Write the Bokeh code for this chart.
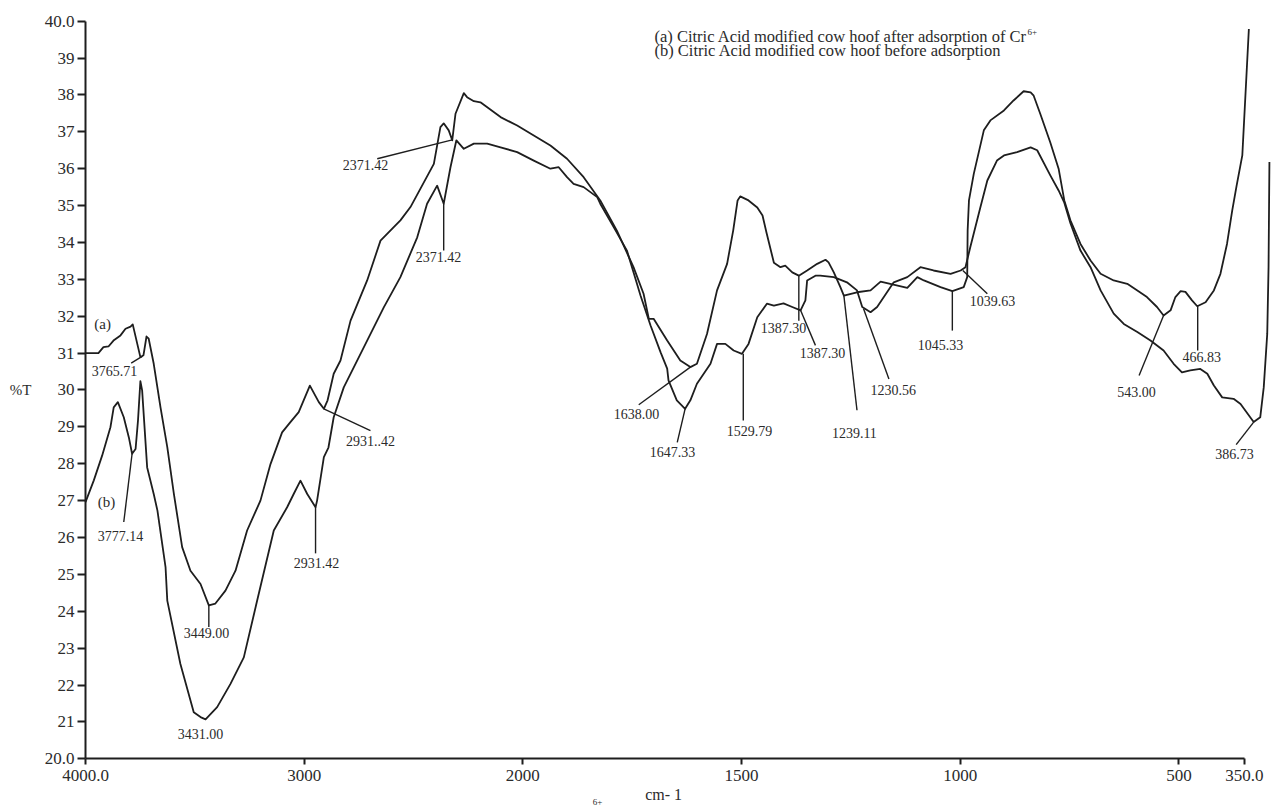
import numpy as np
from bokeh.plotting import figure
from bokeh.models import Range1d, FixedTicker, LinearAxis
from bokeh.core.properties import value
from bokeh.embed import file_html
from bokeh.resources import INLINE

# ---------------- data (wavenumber cm-1, %T) ----------------
# (a) Citric Acid modified cow hoof after adsorption of Cr6+
a_wn = [4000, 3941, 3918, 3895, 3872, 3840, 3817, 3794, 3784, 3749,
        3735, 3721, 3711, 3688, 3657, 3626, 3596, 3558, 3520, 3474,
        3436, 3406, 3360, 3314, 3261, 3200, 3154, 3101, 3063, 3025,
        2974, 2933, 2910, 2893, 2865, 2834, 2788, 2712, 2651, 2560,
        2514, 2407, 2377, 2362, 2339, 2323, 2308, 2270, 2255, 2224,
        2194, 2102, 2026, 1975, 1937, 1899, 1861, 1823, 1785, 1747,
        1724, 1712, 1701, 1670, 1640, 1617, 1602, 1579, 1556, 1533,
        1519, 1509, 1503, 1484, 1464, 1452, 1443, 1426, 1411, 1400,
        1384, 1369, 1350, 1327, 1308, 1301, 1289, 1274, 1266, 1236,
        1205, 1182, 1160, 1121, 1098, 1083, 1045, 1018, 992, 984,
        983, 980, 969, 946, 931, 900, 878, 855, 839, 832,
        817, 794, 775, 762, 748, 725, 702, 679, 649, 618,
        595, 573, 550, 535, 519, 508, 496, 485, 470, 458,
        439, 420, 405, 390, 378, 368, 355, 340]
a_T = [31.00, 31.00, 31.16, 31.18, 31.34, 31.48, 31.66, 31.72, 31.78, 30.89,
       30.94, 31.45, 31.39, 30.71, 29.53, 28.45, 27.19, 25.74, 25.10, 24.74,
       24.16, 24.21, 24.56, 25.10, 26.19, 27.00, 27.99, 28.85, 29.13, 29.40,
       30.12, 29.67, 29.49, 29.72, 30.44, 30.80, 31.88, 32.97, 34.05, 34.60,
       34.96, 36.13, 37.13, 37.23, 37.04, 36.77, 37.49, 38.05, 37.94, 37.83,
       37.80, 37.40, 37.17, 36.90, 36.63, 36.27, 35.77, 35.14, 34.32, 33.33,
       32.61, 31.93, 31.93, 31.34, 30.80, 30.62, 30.71, 31.52, 32.70, 33.42,
       34.33, 35.14, 35.25, 35.14, 34.95, 34.73, 34.27, 33.45, 33.33, 33.37,
       33.19, 33.10, 33.24, 33.42, 33.53, 33.46, 33.19, 32.79, 32.56, 32.65,
       32.70, 32.94, 32.88, 32.77, 33.06, 32.97, 32.79, 32.68, 32.79, 33.06,
       34.33, 35.14, 35.86, 37.04, 37.31, 37.58, 37.85, 38.10, 38.07, 37.98,
       37.49, 36.71, 36.00, 35.14, 34.60, 33.96, 33.51, 33.15, 32.97, 32.88,
       32.70, 32.52, 32.25, 32.02, 32.16, 32.52, 32.68, 32.66, 32.43, 32.27,
       32.38, 32.70, 33.15, 33.96, 34.87, 35.54, 36.36, 39.79]

# (b) Citric Acid modified cow hoof before adsorption
b_wn = [4000, 3962, 3924, 3886, 3871, 3852, 3825, 3802, 3787, 3771,
        3760, 3749, 3741, 3718, 3688, 3671, 3634, 3626, 3566, 3505,
        3474, 3451, 3398, 3337, 3276, 3215, 3177, 3139, 3078, 3048,
        3017, 2986, 2948, 2941, 2910, 2889, 2865, 2819, 2712, 2636,
        2560, 2483, 2438, 2392, 2362, 2331, 2304, 2270, 2224, 2163,
        2102, 2026, 1975, 1937, 1918, 1899, 1884, 1861, 1830, 1823,
        1792, 1762, 1747, 1731, 1708, 1685, 1670, 1667, 1648, 1629,
        1617, 1602, 1571, 1556, 1537, 1518, 1499, 1484, 1464, 1442,
        1426, 1404, 1384, 1365, 1354, 1350, 1331, 1320, 1289, 1259,
        1236, 1224, 1205, 1190, 1152, 1121, 1091, 1061, 1022, 999,
        988, 977, 954, 938, 916, 900, 870, 839, 824, 794,
        775, 762, 748, 725, 702, 679, 649, 626, 595, 565,
        535, 512, 493, 474, 451, 435, 420, 401, 375, 359,
        329, 314, 306, 298, 295, 293]
b_T = [26.96, 27.55, 28.22, 28.99, 29.53, 29.67, 29.26, 28.72, 28.27, 28.40,
       29.17, 30.24, 29.99, 27.90, 27.18, 26.73, 25.20, 24.29, 22.57, 21.26,
       21.13, 21.07, 21.40, 22.03, 22.75, 24.29, 25.24, 26.19, 26.82, 27.18,
       27.54, 27.18, 26.82, 27.00, 28.18, 28.44, 29.26, 30.07, 31.34, 32.24,
       33.06, 34.14, 35.05, 35.54, 35.05, 36.04, 36.77, 36.54, 36.68, 36.68,
       36.58, 36.45, 36.22, 36.00, 36.04, 35.77, 35.59, 35.50, 35.23, 35.05,
       34.41, 33.78, 33.19, 32.56, 31.75, 31.02, 30.58, 30.26, 29.72, 29.49,
       29.72, 30.17, 30.71, 31.25, 31.25, 31.07, 30.98, 31.25, 31.97, 32.34,
       32.29, 32.35, 32.25, 32.16, 32.43, 32.97, 33.10, 33.10, 33.06, 32.92,
       32.70, 32.25, 32.11, 32.25, 32.92, 33.06, 33.33, 33.24, 33.15, 33.24,
       33.33, 33.87, 34.95, 35.68, 36.22, 36.36, 36.45, 36.58, 36.50, 35.82,
       35.41, 35.08, 34.52, 33.78, 33.33, 32.70, 32.07, 31.79, 31.57, 31.34,
       31.07, 30.71, 30.48, 30.53, 30.57, 30.44, 30.12, 29.80, 29.76, 29.62,
       29.13, 29.26, 30.07, 31.52, 33.33, 36.18]

# axis ticks
x_tick_wn = [4000, 3000, 2000, 1500, 1000, 500, 350]
x_tick_text = ["4000.0", "3000", "2000", "1500", "1000", "500", "350.0"]
y_tick_val = list(range(20, 41))
y_tick_text = ["20.0"] + [str(v) for v in range(21, 40)] + ["40.0"]

# peak annotations (label centre)
peak_text = ["3765.71", "3777.14", "3449.00", "3431.00", "2931..42", "2931.42",
             "2371.42", "2371.42", "1638.00", "1647.33", "1529.79", "1387.30",
             "1387.30", "1239.11", "1230.56", "1045.33", "1039.63", "543.00",
             "466.83", "386.73"]
peak_wn = [3867, 3840, 3447, 3474, 2697, 2944, 2720, 2386, 1740, 1658,
           1482, 1404, 1315, 1242, 1153, 1045, 926, 597, 448, 373]
peak_T = [30.51, 26.05, 23.40, 20.66, 28.63, 25.32, 36.09, 33.60, 29.35, 28.33,
          28.90, 31.67, 30.99, 28.83, 30.01, 31.23, 32.41, 29.94, 30.89, 28.27]

# leader lines (from band on the curve to its label)
lead_wn0 = [3741, 3787, 3436, 2910, 2948, 2323, 2362, 1617, 1629, 1496,
            1369, 1365, 1266, 1221, 1018, 994, 535, 457, 329]
lead_T0 = [30.91, 28.27, 24.16, 29.49, 26.82, 36.78, 35.05, 30.62, 29.49, 30.98,
           33.10, 32.16, 32.56, 32.20, 32.68, 33.24, 32.02, 32.27, 29.13]
lead_wn1 = [3791, 3825, 3436, 2697, 2948, 2666, 2362, 1735, 1647, 1496,
            1369, 1331, 1236, 1163, 1018, 938, 591, 457, 369]
lead_T1 = [30.73, 26.42, 23.57, 28.90, 25.57, 36.27, 33.78, 29.60, 28.58, 29.17,
           31.88, 31.21, 29.45, 30.30, 31.61, 32.61, 30.39, 31.07, 28.52]

series_tag = ["(a)", "(b)"]
series_tag_wn = [3922, 3904]
series_tag_T = [31.80, 26.95]

legend_text = ["(a) Citric Acid modified cow hoof after adsorption of Cr",
               "(b) Citric Acid modified cow hoof before adsorption"]
legend_wn = [1699, 1699]
legend_T = [39.585, 39.205]


def fold(wn):
    """Spectrometer abscissa: scale expanded x2 below 2000 cm-1."""
    wn = np.asarray(wn, dtype=float)
    return np.where(wn >= 2000.0, wn, 2.0 * wn - 2000.0)


INK = "#1e1e1e"
TXT = "#2b2b2b"
SERIF = "Liberation Serif"

p = figure(width=1275, height=807,
           x_range=Range1d(4388.7, -1441.8), y_range=Range1d(18.679, 40.561),
           x_axis_location=None, y_axis_location=None,
           output_backend="svg", toolbar_location=None,
           min_border_left=0, min_border_right=0,
           min_border_top=0, min_border_bottom=0)
p.outline_line_color = None
p.background_fill_color = "white"
p.border_fill_color = "white"
for g in p.grid:
    g.visible = False
    g.grid_line_color = None
p.xgrid.visible = False
p.ygrid.visible = False

# axes drawn at x = 4000 cm-1 and y = 20 %T
xt = [float(v) for v in fold(x_tick_wn)]
xaxis = LinearAxis(fixed_location=20.0, ticker=FixedTicker(ticks=xt),
                   bounds=(min(xt), max(xt)))
xaxis.major_label_overrides = {k: t for k, t in zip(xt, x_tick_text)}
yaxis = LinearAxis(fixed_location=4000.0,
                   ticker=FixedTicker(ticks=[float(v) for v in y_tick_val]),
                   bounds=(20.0, 40.0))
yaxis.major_label_overrides = {float(k): t for k, t in zip(y_tick_val, y_tick_text)}
for ax in (xaxis, yaxis):
    ax.axis_line_width = 2
    ax.axis_line_color = INK
    ax.major_tick_line_width = 2
    ax.major_tick_line_color = INK
    ax.major_tick_in = 0
    ax.minor_tick_line_color = None
    ax.major_label_text_font = SERIF
    ax.major_label_text_font_size = "17px"
    ax.major_label_text_color = TXT
yaxis.major_tick_out = 8
yaxis.major_label_standoff = 3
xaxis.major_tick_out = 6
xaxis.major_label_standoff = 5
p.add_layout(xaxis, "below")
p.add_layout(yaxis, "left")

# spectra
p.line(fold(a_wn), a_T, line_color=INK, line_width=1.8, line_join="round")
p.line(fold(b_wn), b_T, line_color=INK, line_width=1.8, line_join="round")

# leaders
p.segment(x0=fold(lead_wn0), y0=lead_T0, x1=fold(lead_wn1), y1=lead_T1,
          line_color=INK, line_width=1.4)

# peak labels
p.text(x=fold(peak_wn), y=peak_T, text=peak_text,
       text_font=value(SERIF), text_font_size=value("14px"), text_color=TXT,
       text_align="center", text_baseline="middle")

# (a) / (b) tags
p.text(x=fold(series_tag_wn), y=series_tag_T, text=series_tag,
       text_font=value(SERIF), text_font_size=value("15px"), text_color=TXT,
       text_align="center", text_baseline="middle")

# legend lines
p.text(x=fold(legend_wn), y=legend_T, text=legend_text,
       text_font=value(SERIF), text_font_size=value("16.5px"), text_color=TXT,
       text_align="left", text_baseline="alphabetic")
p.text(x=fold([846]), y=[39.72], text=["6+"],
       text_font=value(SERIF), text_font_size=value("9px"), text_color=TXT,
       text_align="left", text_baseline="alphabetic")

# axis titles and caption fragment
p.text(x=fold([4297]), y=[29.99], text=["%T"],
       text_font=value(SERIF), text_font_size=value("15px"), text_color=TXT,
       text_align="center", text_baseline="middle")
p.text(x=fold([1678]), y=[19.02], text=["cm- 1"],
       text_font=value(SERIF), text_font_size=value("16px"), text_color=TXT,
       text_align="center", text_baseline="middle")
p.text(x=fold([1829]), y=[18.84], text=["6+"],
       text_font=value(SERIF), text_font_size=value("9px"), text_color=TXT,
       text_align="center", text_baseline="middle")

open("out.html", "w").write(file_html(p, INLINE))
